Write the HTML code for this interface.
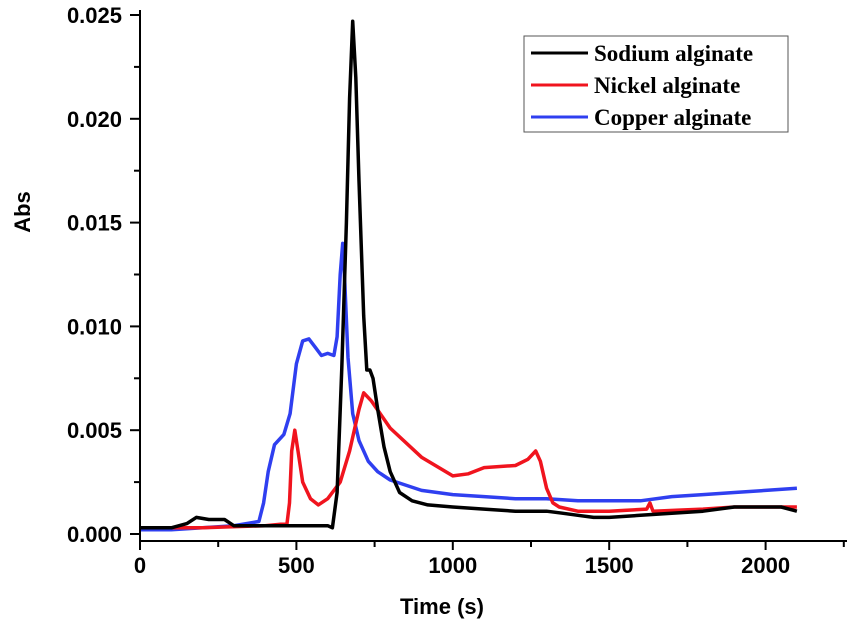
<!DOCTYPE html>
<html><head><meta charset="utf-8"><style>
body{margin:0;background:#fff;}
svg{display:block;font-family:"Liberation Sans",Arial,sans-serif;}
</style></head><body>
<svg id="chart" width="850" height="628" viewBox="0 0 850 628">
<g id="plot"></g>
<g id="axes"></g>
<text x="30" y="212" font-size="22" font-weight="bold" text-anchor="middle" transform="rotate(-90 30 212)">Abs</text>
<text x="442" y="614" font-size="22" font-weight="bold" text-anchor="middle">Time (s)</text>
<g>
<rect x="524" y="36" width="264" height="96" fill="#fff" stroke="#555" stroke-width="1"/>
<g><line x1="531" y1="53" x2="588" y2="53" stroke="#000" stroke-width="3"/><text x="594" y="61" font-family="Liberation Serif,serif" font-size="23" font-weight="bold">Sodium alginate</text></g>
<g><line x1="531" y1="85" x2="588" y2="85" stroke="#f0141e" stroke-width="3"/><text x="594" y="93" font-family="Liberation Serif,serif" font-size="23" font-weight="bold">Nickel alginate</text></g>
<g><line x1="531" y1="117" x2="588" y2="117" stroke="#2f3ff0" stroke-width="3"/><text x="594" y="125" font-family="Liberation Serif,serif" font-size="23" font-weight="bold">Copper alginate</text></g>
</g>
</svg>
<script>
const xTicks=[0,500,1000,1500,2000];
const yTicks=[0,0.005,0.010,0.015,0.020,0.025];
const yTickLabels=["0.000","0.005","0.010","0.015","0.020","0.025"];
const sodiumT=[0,100,150,180,220,270,300,400,500,600,615,630,645,660,670,680,690,700,715,725,735,745,760,780,800,830,870,920,1000,1100,1200,1300,1350,1400,1450,1500,1600,1700,1800,1900,2000,2050,2100];
const sodiumV=[0.0003,0.0003,0.0005,0.0008,0.0007,0.0007,0.0004,0.0004,0.0004,0.0004,0.0003,0.002,0.008,0.015,0.021,0.0247,0.022,0.017,0.0105,0.0079,0.0079,0.0075,0.006,0.0042,0.003,0.002,0.0016,0.0014,0.0013,0.0012,0.0011,0.0011,0.001,0.0009,0.0008,0.0008,0.0009,0.001,0.0011,0.0013,0.0013,0.0013,0.0011];
const nickelT=[0,200,400,470,478,485,495,505,520,545,570,600,640,670,700,715,740,800,900,1000,1050,1100,1200,1240,1265,1280,1300,1320,1340,1400,1500,1620,1630,1640,1800,1900,2000,2100];
const nickelV=[0.0003,0.0003,0.0004,0.0005,0.0015,0.004,0.005,0.004,0.0025,0.0017,0.0014,0.0017,0.0025,0.004,0.006,0.0068,0.0064,0.0051,0.0037,0.0028,0.0029,0.0032,0.0033,0.0036,0.004,0.0035,0.0022,0.0015,0.0013,0.0011,0.0011,0.0012,0.0015,0.0011,0.0012,0.0013,0.0013,0.0013];
const copperT=[0,100,200,300,380,395,410,430,460,480,500,520,540,560,580,600,620,630,640,648,655,665,680,700,730,760,800,900,1000,1100,1200,1300,1400,1500,1600,1700,1800,1900,2000,2100];
const copperV=[0.0002,0.0002,0.0003,0.0004,0.0006,0.0015,0.003,0.0043,0.0048,0.0058,0.0082,0.0093,0.0094,0.009,0.0086,0.0087,0.0086,0.0095,0.0125,0.014,0.012,0.0085,0.0058,0.0045,0.0035,0.003,0.0026,0.0021,0.0019,0.0018,0.0017,0.0017,0.0016,0.0016,0.0016,0.0018,0.0019,0.002,0.0021,0.0022];
const NS='http://www.w3.org/2000/svg';
const X0=140,XR=847,YB=541,Y0=534;
const xs=v=>X0+v*(156.4/500);
const ys=v=>Y0-v*(519/0.025);
function el(t,a,p){const e=document.createElementNS(NS,t);for(const k in a)e.setAttribute(k,a[k]);p.appendChild(e);return e;}
const axes=document.getElementById('axes'),plot=document.getElementById('plot');
const ya=el('line',{x1:X0,y1:10,x2:X0,y2:YB,stroke:'#000','stroke-width':2},axes);


const xa=el('line',{x1:X0-1,y1:YB,x2:XR,y2:YB,stroke:'#000','stroke-width':2},axes);


for(let v=0;v<=2250;v+=250){const major=v%500===0;el('line',{x1:xs(v),y1:YB,x2:xs(v),y2:YB+(major?9:6),stroke:'#000','stroke-width':2},axes);}
xTicks.forEach(v=>{const t=el('text',{x:xs(v),y:YB+32,'font-size':22,'font-weight':'bold','text-anchor':'middle'},axes);t.textContent=String(v);

});
for(let i=0;i<=10;i++){const v=i*0.0025;const major=i%2===0;el('line',{x1:X0,y1:ys(v),x2:X0-(major?10:6),y2:ys(v),stroke:'#000','stroke-width':2},axes);}
yTicks.forEach((v,i)=>{const t=el('text',{x:X0-18,y:ys(v)+8,'font-size':22,'font-weight':'bold','text-anchor':'end'},axes);t.textContent=yTickLabels[i];

});
function line(T,V,c,name){const d=T.map((t,i)=>(i?'L':'M')+xs(t).toFixed(1)+','+ys(V[i]).toFixed(1)).join('');const p=el('path',{d:d,fill:'none',stroke:c,'stroke-width':3.5,'stroke-linejoin':'round'},plot);

}
line(copperT,copperV,'#2f3ff0','copper-alginate-line');
line(nickelT,nickelV,'#f0141e','nickel-alginate-line');
line(sodiumT,sodiumV,'#000','sodium-alginate-line');
</script>
</body></html>
